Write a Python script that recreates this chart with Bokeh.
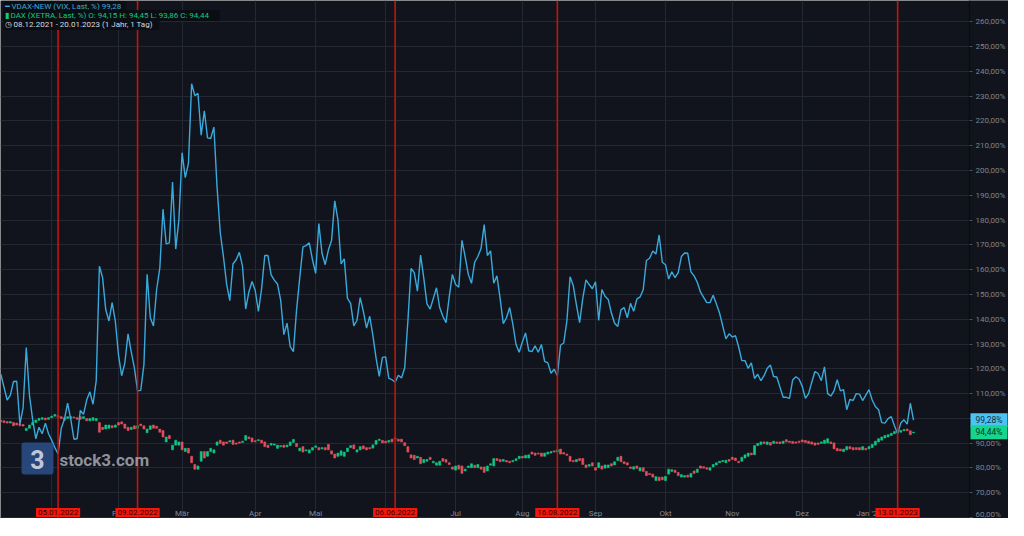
from bokeh.plotting import figure
from bokeh.models import (Range1d, FixedTicker, Span, Label, BoxAnnotation,
                          ColumnDataSource, CustomJSTickFormatter)
from bokeh.embed import file_html
from bokeh.resources import INLINE

# ---------------- data ----------------
# trading-day index: 0 = 08.12.2021 ... 287 = 20.01.2023
vdax = [
    117.8, 112.6, 107.4, 109.4, 114.9, 115.0, 97.7, 104.2, 128.6, 109.4,
    99.6, 91.8, 96.4, 93.8, 98.1, 93.8, 91.2, 88.2, 85.6, 96.0,
    99.6, 106.1, 99.6, 91.6, 91.8, 103.2, 101.6, 107.4, 110.7, 105.7,
    115.2, 161.4, 156.8, 143.8, 139.3, 146.7, 139.3, 125.6, 117.2, 122.4,
    134.1, 126.9, 120.4, 111.1, 111.3, 121.7, 158.1, 140.6, 137.3,
    152.0, 160.7, 184.4, 170.4, 170.8, 195.4, 168.3, 180.2, 207.2, 197.1,
    202.9, 235.0, 230.2, 231.1, 214.3, 224.1, 213.2, 212.9, 217.5, 193.2,
    175.0, 165.3, 154.2, 147.5, 162.3, 164.0, 167.0, 161.4, 144.1, 151.0,
    155.2, 151.6, 143.2, 152.3, 165.7, 165.7, 157.9, 155.8, 154.2, 147.7,
    133.8, 138.4, 128.9, 126.9, 143.8, 156.8, 169.2, 169.7,
    170.8, 164.0, 158.5, 178.6, 166.6, 162.0, 167.9, 171.8, 187.8, 180.2,
    162.3, 164.4, 148.4, 146.4, 137.3, 139.6, 148.7, 143.2, 136.4, 141.2,
    133.4, 124.3, 116.9, 124.6, 124.8, 116.1, 115.6, 114.6, 117.4, 116.3,
    120.4, 139.3, 160.5, 158.8, 151.3, 165.9, 156.6, 146.2, 144.1, 148.4,
    152.7, 144.7, 141.2, 138.6, 149.0, 158.1, 154.0, 152.9, 171.8,
    165.3, 158.1, 154.5, 163.0, 165.3, 168.5, 178.2, 165.7, 167.6, 154.5,
    157.5, 148.4, 138.2, 140.6, 144.7, 138.0, 129.8, 126.7, 130.8, 134.5,
    127.3, 126.9, 129.3, 126.7, 129.8, 123.0, 122.4, 118.2, 119.8, 117.2,
    129.5, 130.4, 139.3, 157.1, 153.6, 145.8, 138.6, 148.4, 155.9, 154.0,
    152.3, 155.1, 139.5, 152.0, 149.3, 148.0, 142.5, 138.4, 137.1,
    143.8, 144.7, 140.6, 146.4, 143.2, 148.1, 149.0, 151.9, 163.7, 164.6,
    167.5, 166.3, 174.0, 163.0, 162.0, 156.2, 159.1, 156.8, 158.8, 165.3,
    166.7, 166.6, 159.1, 157.5, 154.9, 151.0, 148.8, 146.7, 146.7, 149.7,
    146.2, 142.5, 137.3, 132.1, 134.1, 132.8, 133.4, 128.9, 123.3, 123.3,
    120.2, 122.4, 116.1, 117.8, 115.2, 117.2, 120.2, 121.5, 116.9, 116.7,
    112.6, 108.5, 108.5, 108.1, 115.5, 116.8, 115.9, 112.9, 108.1, 110.0,
    114.6, 118.9, 118.1, 115.2, 120.8, 110.0, 109.0, 111.1, 115.6, 111.1,
    111.6, 103.5, 107.7, 107.2, 110.0, 109.8, 107.2, 109.4, 111.6, 107.4,
    104.8, 103.5, 98.3, 98.1, 99.9, 100.7, 97.0, 93.8, 98.1, 99.4,
    97.7, 106.1, 99.28,
]

dax_open = [
    99.2, 99.0, 98.7, 98.1, 98.3, 98.1, 97.7, 97.5, 95.1, 96.0,
    97.3, 98.3, 99.2, 99.6, 100.1, 99.6, 100.3, 100.9, 101.2, 100.7,
    100.3, 99.9, 100.0, 100.6, 100.3, 100.7, 99.9, 99.9, 99.0, 99.2,
    99.0, 98.3, 96.4, 95.7, 96.0, 97.0, 96.4, 98.3, 98.6, 97.7,
    96.4, 95.5, 97.0, 96.0, 97.7, 97.0, 94.2, 95.5, 97.3, 96.8,
    95.7, 95.1, 90.5, 93.1, 87.3, 89.2, 89.2, 90.5, 86.6, 87.9,
    84.7, 81.4, 79.5, 82.7, 86.6, 84.7, 86.6, 86.0, 89.2, 91.2,
    90.5, 90.5, 90.5, 91.2, 90.1, 90.5, 90.3, 91.2, 92.5, 92.1,
    91.0, 91.0, 91.2, 90.5, 89.2, 89.2, 89.2, 87.9, 88.6, 89.2,
    88.5, 89.0, 90.3, 89.9, 86.9, 88.6, 86.9, 86.0, 87.2, 88.3,
    88.2, 87.7, 88.2, 89.5, 86.9, 85.6, 84.7, 85.1, 84.7, 86.6,
    88.2, 89.3, 86.4, 87.3, 88.9, 88.2, 88.2, 88.0, 89.5, 91.1,
    91.1, 90.8, 90.4, 91.6, 92.1, 91.6, 91.6, 90.2, 88.6, 85.3,
    85.1, 84.0, 84.3, 82.1, 82.7, 84.3, 82.1, 81.1, 81.1, 83.8,
    83.4, 82.1, 80.4, 79.1, 81.1, 80.8, 78.8, 80.1, 80.1, 81.1,
    80.1, 80.4, 80.4, 78.8, 81.1, 80.8, 83.8, 83.4, 82.7, 83.0,
    82.7, 82.5, 83.0, 83.8, 84.7, 84.0, 84.0, 86.4, 86.0, 86.0,
    86.0, 84.7, 85.6, 86.0, 86.9, 86.4, 87.6, 86.2, 85.6, 84.7,
    83.0, 82.5, 83.8, 83.8, 81.2, 80.7, 82.1, 80.1, 80.1, 80.8,
    79.9, 80.1, 81.7, 81.2, 83.0, 84.7, 82.5, 82.1, 80.4, 79.5,
    80.8, 78.8, 80.1, 78.6, 77.8, 77.5, 74.9, 76.3, 76.3, 74.9,
    77.5, 78.6, 79.1, 78.2, 76.3, 76.3, 77.1, 76.3, 78.8, 78.2,
    80.8, 80.5, 80.1, 79.1, 80.4, 81.2, 82.1, 82.5, 82.1, 83.4,
    84.3, 84.0, 82.7, 82.7, 84.0, 84.7, 86.0, 85.3, 89.0, 89.5,
    90.5, 89.5, 90.3, 89.9, 90.5, 90.5, 89.9, 91.4, 90.8, 90.7,
    90.5, 90.8, 91.3, 91.1, 90.8, 90.5, 90.1, 90.1, 89.9, 89.9,
    90.1, 90.5, 90.1, 87.9, 87.6, 86.6, 87.3, 88.6, 88.2, 88.2,
    88.2, 87.3, 87.9, 87.7, 88.2, 89.2, 90.5, 91.2, 92.1, 92.5,
    93.1, 93.8, 94.2, 94.4, 95.0, 95.7, 95.0, 94.15,
]

dax_close = [
    98.6, 98.3, 98.1, 98.7, 97.0, 97.3, 97.0, 96.9, 96.0, 97.3,
    98.3, 99.3, 100.0, 100.3, 99.4, 100.3, 100.9, 101.6, 100.3, 99.9,
    99.2, 100.7, 100.7, 100.2, 99.6, 99.6, 100.7, 99.0, 99.9, 100.3,
    99.9, 94.4, 95.5, 97.3, 97.3, 96.2, 97.3, 97.3, 97.7, 96.0,
    95.1, 96.4, 95.7, 97.0, 97.0, 95.7, 95.7, 97.0, 96.0, 96.0,
    94.4, 92.5, 92.5, 91.8, 89.2, 91.2, 90.5, 87.3, 87.9, 86.0,
    82.1, 79.5, 80.8, 86.6, 84.0, 86.6, 87.9, 87.3, 90.5, 89.9,
    89.2, 89.9, 91.0, 89.5, 89.6, 90.0, 90.8, 93.1, 91.8, 90.5,
    90.5, 91.4, 90.1, 88.6, 88.2, 89.9, 89.7, 89.2, 89.0, 88.3,
    89.2, 90.5, 91.5, 88.6, 88.0, 86.4, 87.3, 87.3, 88.2, 88.9,
    87.3, 88.2, 87.3, 87.3, 85.6, 84.0, 86.0, 86.9, 86.4, 88.0,
    89.0, 87.7, 87.3, 88.6, 87.7, 87.3, 87.7, 89.3, 91.1, 91.6,
    90.1, 90.1, 91.1, 90.5, 91.6, 90.8, 90.5, 89.0, 86.4, 84.0,
    83.4, 84.7, 81.7, 83.4, 83.4, 83.4, 82.7, 82.1, 82.7, 82.7,
    82.3, 81.4, 79.5, 80.8, 79.5, 77.8, 79.5, 80.8, 81.7, 80.1,
    81.4, 79.5, 78.2, 80.8, 81.7, 83.8, 83.0, 82.5, 83.4, 82.4,
    82.1, 83.0, 83.7, 84.7, 84.0, 85.1, 85.3, 85.6, 85.1, 85.6,
    84.7, 86.0, 86.4, 86.6, 86.4, 87.3, 85.6, 85.6, 85.1, 82.7,
    82.5, 83.4, 83.0, 81.4, 80.1, 81.4, 80.8, 79.1, 82.1, 79.5,
    81.2, 81.2, 80.8, 82.5, 84.3, 82.5, 81.7, 81.2, 79.8, 80.5,
    79.8, 80.1, 78.6, 76.9, 77.3, 76.3, 76.5, 74.9, 75.2, 76.6,
    79.5, 79.3, 78.2, 76.9, 77.3, 76.9, 76.3, 77.8, 77.8, 79.5,
    79.9, 79.9, 79.5, 80.1, 81.4, 82.1, 82.7, 83.0, 83.1, 82.7,
    83.4, 83.0, 82.1, 84.3, 85.3, 86.0, 85.3, 89.0, 89.9, 90.5,
    89.8, 90.5, 89.2, 90.8, 89.9, 89.8, 90.8, 90.5, 90.3, 89.9,
    90.0, 90.3, 90.5, 90.3, 89.9, 89.6, 89.2, 89.5, 90.5, 91.2,
    91.8, 89.8, 87.7, 86.9, 86.9, 87.6, 88.6, 87.7, 87.3, 87.4,
    87.3, 88.6, 87.3, 88.6, 89.5, 90.8, 91.8, 92.5, 93.1, 93.4,
    94.0, 94.7, 95.1, 95.1, 95.5, 95.0, 93.4, 94.44,
]

month_ticks = [16, 37, 57, 80, 99, 121, 143, 164, 187, 209, 230, 252, 273]
month_labels = ["2022", "Feb", "Mär", "Apr", "Mai", "Jun", "Jul", "Aug",
                "Sep", "Okt", "Nov", "Dez", "Jan '23"]
event_idx = [18, 43, 124, 175, 282]
event_labels = ["05.01.2022", "09.02.2022", "06.06.2022", "16.08.2022", "13.01.2023"]
y_ticks = [60, 70, 80, 90, 100, 110, 120, 130, 140, 150, 160, 170, 180,
           190, 200, 210, 220, 230, 240, 250, 260]
vdax_last_value = 99.28
dax_last_value = 94.44
vdax_last = "99,28%"
dax_last = "94,44%"
legend_lines = [
    "━  VDAX-NEW (VIX, Last, %)  99,28",
    "▮  DAX (XETRA, Last, %)  O: 94,15  H: 94,45  L: 93,86  C: 94,44",
    "◷  08.12.2021 - 20.01.2023   (1 Jahr, 1 Tag)",
]

# ---------------- styling ----------------
BG = "#11141c"
GRID = "#242833"
BLUE = "#3aaadc"
GREEN = "#0fca85"
RED = "#e5505d"
FONT = "Roboto"

FW, FH = 1008, 518
X0, XAX = -0.1, 304.6          # data area ends where the price axis sits
X1 = X0 + (XAX - X0) * FW / 969.0
Y0, Y1 = 59.6, 268.6
XAXIS_AT = 64.4                # month labels drawn inside the chart bottom

p = figure(frame_width=FW, frame_height=FH,
           x_range=Range1d(X0, X1), y_range=Range1d(Y0, Y1),
           y_axis_location="right", output_backend="svg", toolbar_location=None,
           background_fill_color=BG, border_fill_color=BG, min_border=0)
p.outline_line_color = None

p.grid.grid_line_color = GRID
p.grid.grid_line_width = 1

# price-axis strip (hides grid lines right of the axis)
p.add_layout(BoxAnnotation(left=XAX, right=X1, fill_color=BG, fill_alpha=1.0,
                           line_color=None, level="underlay"))

xa = p.xaxis[0]
xa.fixed_location = XAXIS_AT
xa.ticker = FixedTicker(ticks=month_ticks)
xa.formatter = CustomJSTickFormatter(args=dict(t=month_ticks, l=month_labels),
                                     code="const i = t.indexOf(Math.round(tick)); return i >= 0 ? l[i] : '';")
xa.axis_line_color = None
xa.major_tick_line_color = None
xa.minor_tick_line_color = None
xa.major_tick_out = 0
xa.major_tick_in = 0
xa.major_label_standoff = 2
xa.major_label_text_color = "#858a94"
xa.major_label_text_font_size = "8px"
xa.major_label_text_font = FONT

ya = p.yaxis[0]
ya.fixed_location = XAX
ya.ticker = FixedTicker(ticks=y_ticks)
ya.formatter = CustomJSTickFormatter(code="return tick.toFixed(2).replace('.', ',') + '%';")
ya.axis_line_color = "#0a0c11"
ya.axis_line_width = 1.5
ya.major_tick_line_color = "#4b505b"
ya.major_tick_out = 3
ya.major_tick_in = 0
ya.minor_tick_line_color = None
ya.major_label_standoff = 3
ya.major_label_text_color = "#7f848e"
ya.major_label_text_font_size = "8px"
ya.major_label_text_font = FONT

# ---------------- candles (DAX) ----------------
idx = list(range(len(dax_close)))
src = ColumnDataSource(dict(
    x=idx,
    top=[max(o, c) for o, c in zip(dax_open, dax_close)],
    bottom=[min(o, c) for o, c in zip(dax_open, dax_close)],
    color=[GREEN if c >= o else RED for o, c in zip(dax_open, dax_close)],
))
p.vbar(x="x", top="top", bottom="bottom", width=0.62, source=src,
       fill_color="color", line_color="color", line_width=0.6)

# ---------------- VDAX line ----------------
p.line(x=list(range(len(vdax))), y=vdax, line_color=BLUE, line_width=1.4)

# ---------------- event markers ----------------
for i, lab in zip(event_idx, event_labels):
    p.add_layout(Span(location=i, dimension="height", line_color="#c2150c", line_width=1.6))
    p.add_layout(Label(x=i, y=6, x_units="data", y_units="screen", text=lab,
                       text_align="center", text_baseline="middle",
                       text_font=FONT, text_font_size="8px", text_color="#3a0000",
                       background_fill_color="#f3170b", padding=2))

# ---------------- last value tags on the price axis ----------------
p.add_layout(Label(x=XAX, y=vdax_last_value, x_units="data", y_units="data", x_offset=1,
                   text=vdax_last, text_baseline="middle", text_font=FONT,
                   text_font_size="8.5px", text_color="#10303e",
                   background_fill_color="#4cc3f5", padding=(5, 2)))
p.add_layout(Label(x=XAX, y=dax_last_value, x_units="data", y_units="data", x_offset=1,
                   text=dax_last, text_baseline="middle", text_font=FONT,
                   text_font_size="8.5px", text_color="#063a24",
                   background_fill_color="#14d68f", padding=(5, 2)))

# ---------------- legend (top left) ----------------
leg_colors = ["#3fa6d8", "#16c784", "#d7dae0"]
for k, (txt, col) in enumerate(zip(legend_lines, leg_colors)):
    p.add_layout(Label(x=3, y=FH - 6 - 9 * k, x_units="screen", y_units="screen",
                       text=txt, text_baseline="middle", text_font=FONT,
                       text_font_size="8px", text_color=col,
                       background_fill_color="#0a0d13", background_fill_alpha=0.9,
                       padding=1))

# ---------------- watermark ----------------
p.add_layout(BoxAnnotation(left=21, right=53, bottom=44, top=76,
                           left_units="screen", right_units="screen",
                           bottom_units="screen", top_units="screen",
                           fill_color="#2b4f8a", fill_alpha=0.85, line_color=None,
                           border_radius=3))
p.add_layout(Label(x=37, y=59, x_units="screen", y_units="screen", text="3",
                   text_align="center", text_baseline="middle", text_font=FONT,
                   text_font_size="25px", text_font_style="bold",
                   text_color="#d5dbe6", text_alpha=0.9))
p.add_layout(Label(x=59, y=59, x_units="screen", y_units="screen", text="stock3.com",
                   text_baseline="middle", text_font=FONT, text_font_size="17px",
                   text_font_style="bold", text_color="#b8bcc4", text_alpha=0.75))

open("out.html", "w").write(file_html(p, INLINE))
